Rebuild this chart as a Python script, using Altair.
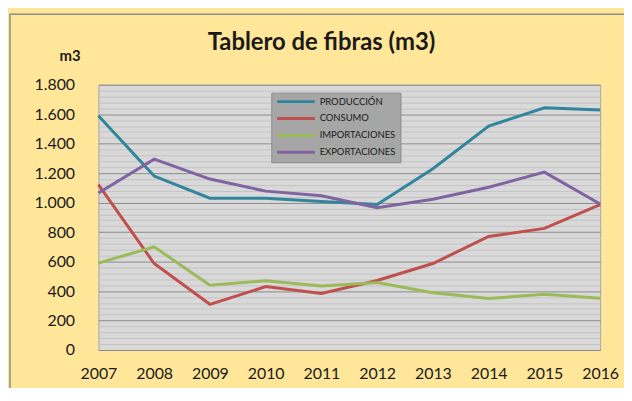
import altair as alt
import pandas as pd

years = ["2007", "2008", "2009", "2010", "2011", "2012", "2013", "2014", "2015", "2016"]
produccion = [1590, 1180, 1030, 1030, 1008, 988, 1230, 1520, 1643, 1628]
consumo = [1122, 587, 310, 430, 384, 472, 587, 770, 825, 987]
importaciones = [590, 700, 440, 470, 434, 458, 389, 349, 378, 351]
exportaciones = [1065, 1295, 1160, 1078, 1047, 966, 1023, 1104, 1207, 991]

series_names = ["PRODUCCIÓN", "CONSUMO", "IMPORTACIONES", "EXPORTACIONES"]
series_values = [produccion, consumo, importaciones, exportaciones]
series_colors = ["#31859c", "#c0504d", "#9bbb59", "#8064a2"]

y_ticks = list(range(0, 1801, 40))

rows = []
for name, vals in zip(series_names, series_values):
    for yr, v in zip(years, vals):
        rows.append({"Año": yr, "Serie": name, "Valor": v})
df = pd.DataFrame(rows)

W, H = 505, 267
FONT = "Lato"
SYM = 6.33  # legend symbol size; drawn line is 6x this long

border = alt.Chart(pd.DataFrame({"a": [0]})).mark_rect(
    filled=False, stroke="#8c8c8c", strokeWidth=1.5, clip=False
).encode(
    x=alt.value(-89), x2=alt.value(W + 100),
    y=alt.value(-71), y2=alt.value(H + 100),
)

lines = alt.Chart(df).mark_line(strokeWidth=3).encode(
    x=alt.X("Año:O", scale=alt.Scale(padding=0),
            axis=alt.Axis(title=None, labelAngle=0, labelFontSize=16, labelFont=FONT,
                          labelColor="#1a1a1a", ticks=False, domain=False,
                          labelPadding=16, grid=False)),
    y=alt.Y("Valor:Q", scale=alt.Scale(domain=[0, 1800], nice=False),
            axis=alt.Axis(values=y_ticks, title="m3", titleAngle=0, titleX=-29, titleY=-29,
                          titleAlign="center", titleBaseline="middle", titleFont=FONT,
                          titleFontSize=15, titleFontWeight="bold", titleColor="#1a1a1a",
                          labelExpr="datum.value % 200 === 0 ? replace(format(datum.value, ','), ',', '.') : ''",
                          labelFontSize=16, labelFont=FONT, labelColor="#1a1a1a",
                          labelPadding=24, ticks=False, domain=False,
                          grid=True,
                          gridColor=alt.condition("datum.value % 200 === 0",
                                                  alt.value("#8c8c8c"), alt.value("#c4c4c4")),
                          gridWidth=1)),
    color=alt.Color("Serie:N",
                    scale=alt.Scale(domain=series_names, range=series_colors),
                    sort=series_names,
                    legend=alt.Legend(title=None, orient="none", legendX=174, legendY=8,
                                      symbolType="M-1,0H11", symbolStrokeWidth=3,
                                      symbolSize=SYM * SYM, labelFontSize=9.5, labelFont=FONT,
                                      labelColor="#1a1a1a", labelOffset=5 * SYM + 3,
                                      fillColor="#a6a6a6", strokeColor="#8c8c8c",
                                      padding=4, rowPadding=5)),
)

chart = alt.layer(border, lines).properties(
    width=W, height=H,
    autosize=alt.AutoSizeParams(type="none"),
    padding={"left": 91, "top": 76, "right": 24, "bottom": 37},
    background="#ffe699",
    title=alt.Title("Tablero de fibras (m3)", font=FONT, fontSize=24, fontWeight="bold",
                    color="#1a1a1a", anchor="middle", frame="group", dx=-28, offset=-42),
).configure_view(fill="#d9d9d9", stroke="#a6a6a6")

chart.save("out.html", embed_options={"renderer": "svg", "actions": False})
